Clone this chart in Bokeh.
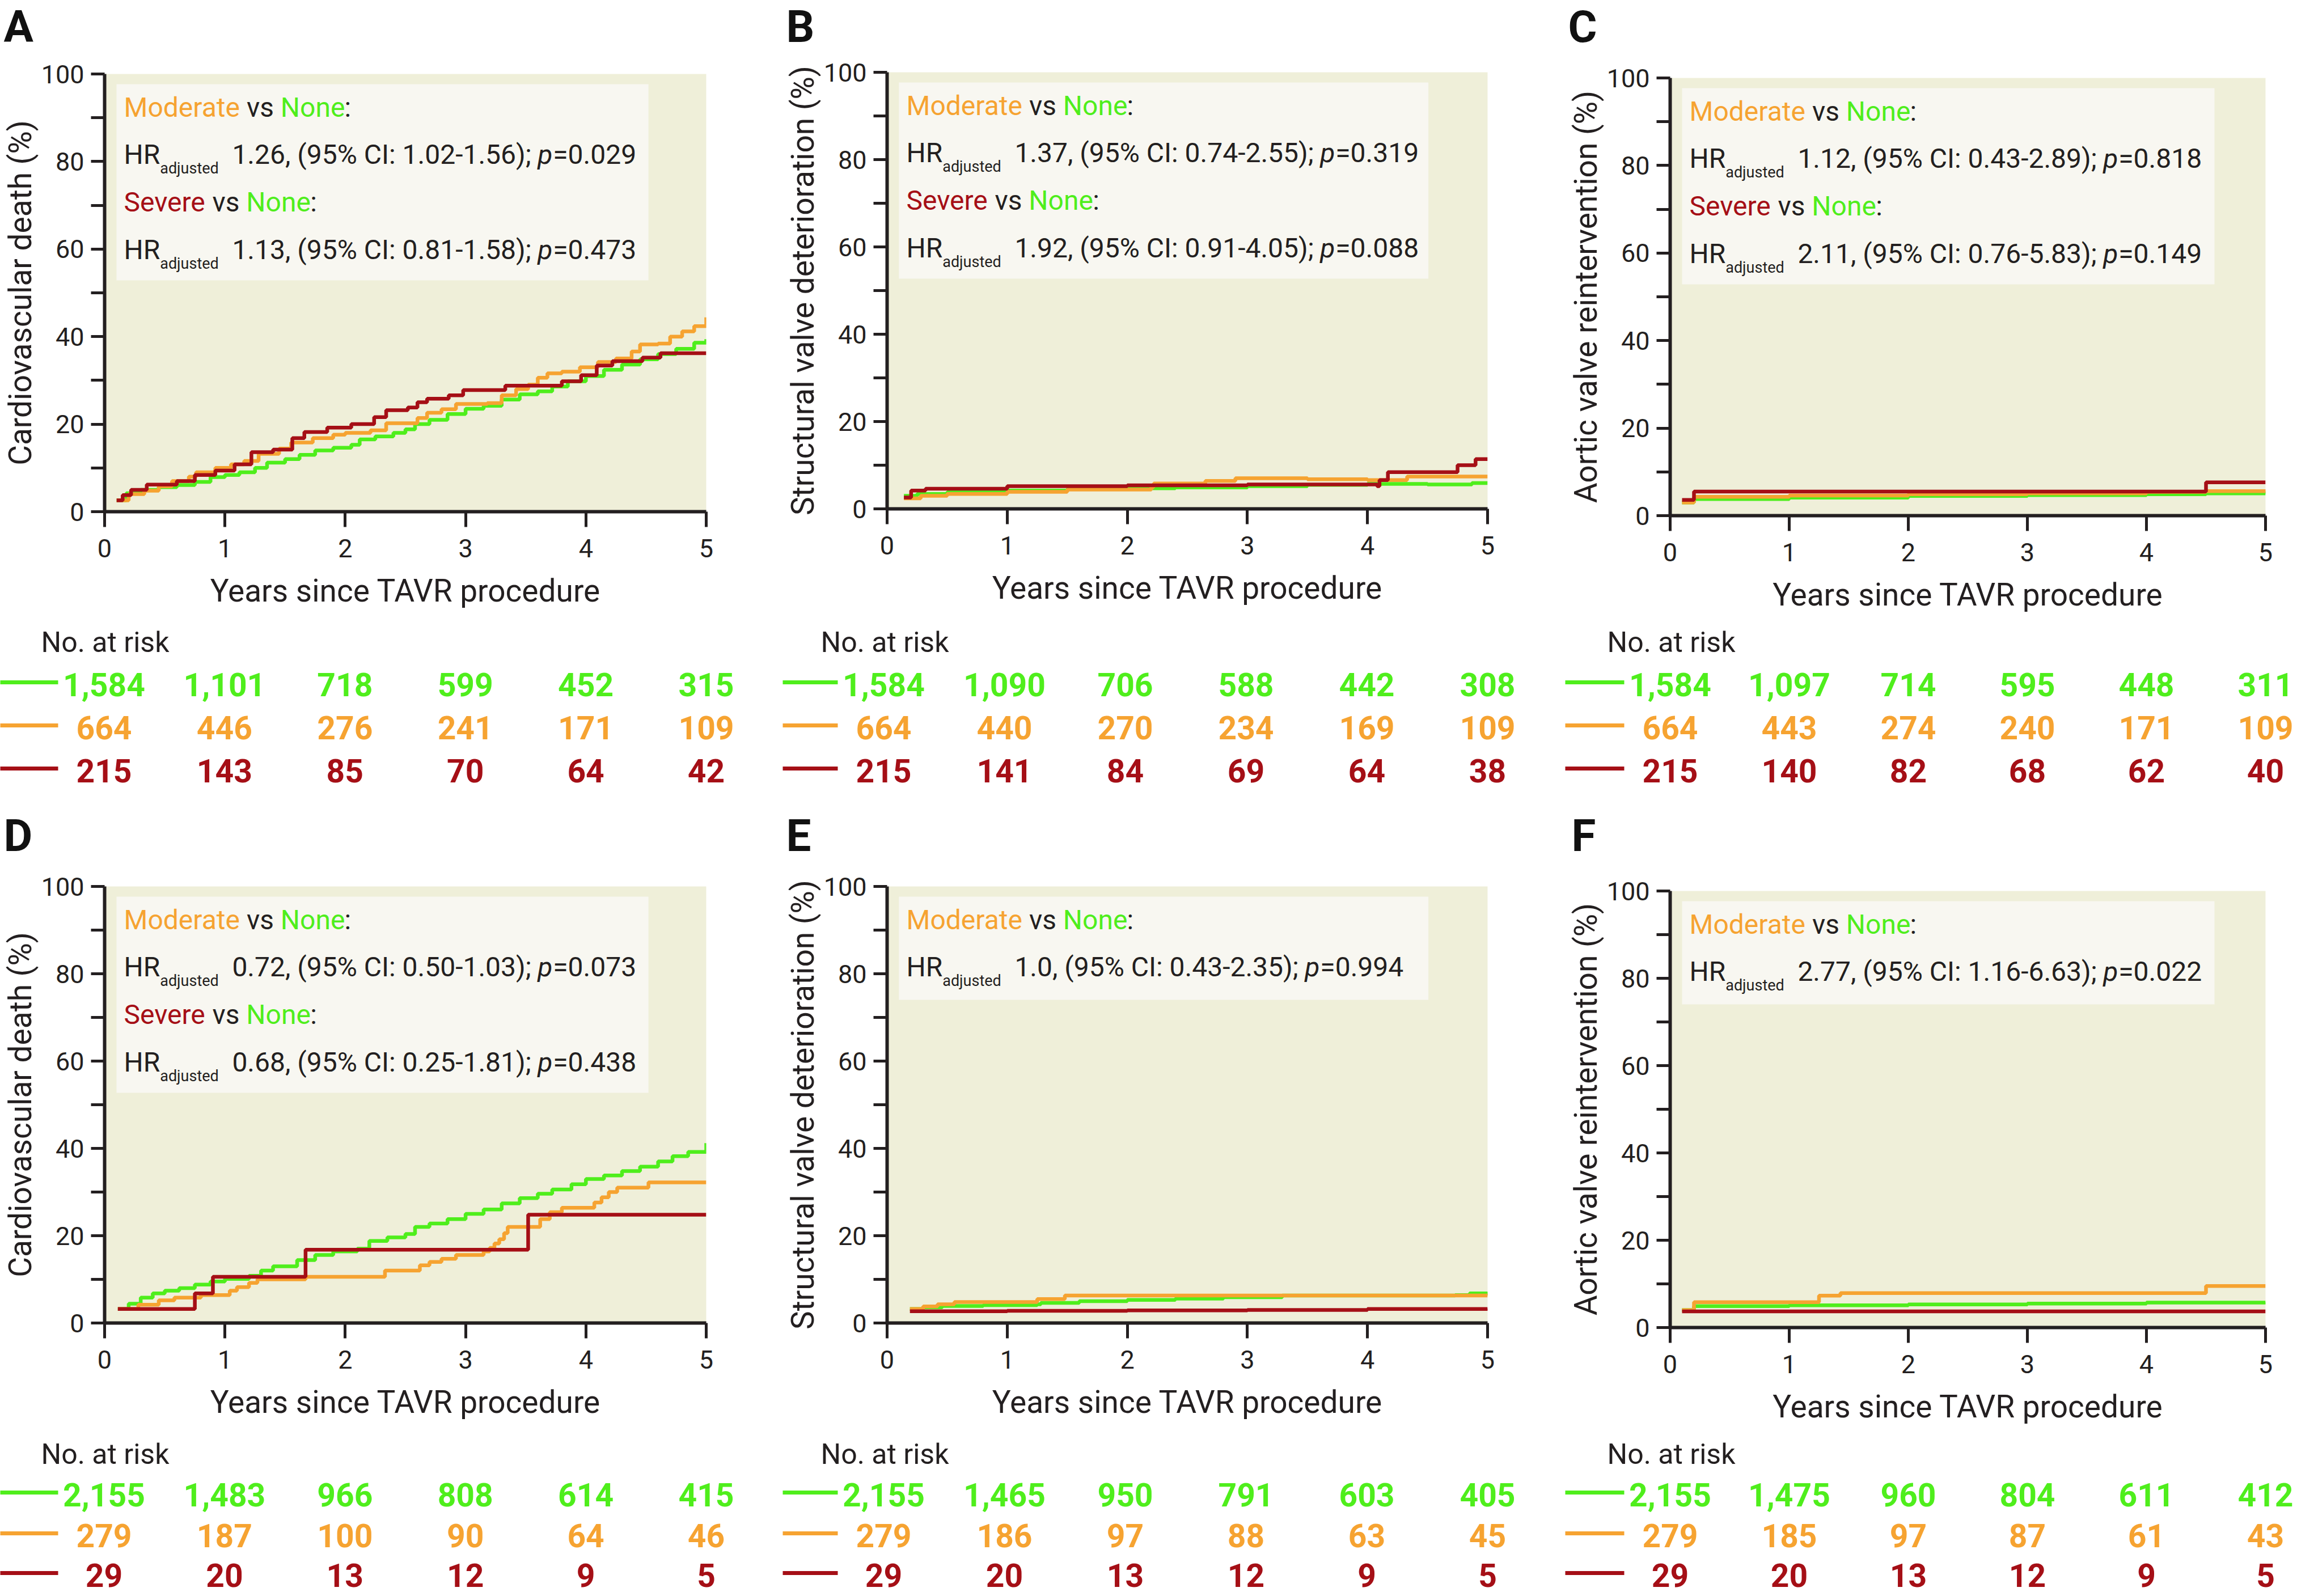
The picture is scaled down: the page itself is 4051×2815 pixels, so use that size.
from bokeh.plotting import figure
from bokeh.layouts import column, row
from bokeh.models import (Range1d, FixedTicker, Label, LabelSet, ColumnDataSource, BoxAnnotation)
from bokeh.core.properties import value
from bokeh.embed import file_html
from bokeh.resources import INLINE

# ------------------------------------------------------------------ data
years = [0, 1, 2, 3, 4, 5]
y_ticks = [0, 20, 40, 60, 80, 100]
y_minor = [10, 30, 50, 70, 90]
x_title = "Years since TAVR procedure"
risk_header = "No. at risk"

# Panel A - cardiovascular death
a_none_t = [0.1, 0.18, 0.3, 0.45, 0.6, 0.75, 0.88, 1.0, 1.12, 1.25, 1.35, 1.5, 1.62, 1.75, 1.9, 2.05, 2.12,
            2.25, 2.4, 2.5, 2.58, 2.7, 2.85, 3.0, 3.15, 3.3, 3.45, 3.6, 3.72, 3.85, 4.0, 4.15, 4.3, 4.45,
            4.6, 4.75, 4.9, 5.0]
a_none_y = [2.6, 4.2, 5.0, 5.6, 6.1, 6.8, 7.9, 8.4, 9.0, 10.0, 11.2, 12.0, 13.0, 14.0, 14.6, 15.3, 16.5,
            17.2, 18.0, 18.8, 20.0, 21.0, 22.3, 23.5, 24.2, 25.6, 26.8, 27.5, 28.6, 29.8, 31.0, 32.4, 33.6,
            34.8, 36.0, 37.2, 38.6, 39.4]
a_mod_t = [0.1, 0.2, 0.33, 0.45, 0.56, 0.7, 0.76, 0.92, 1.05, 1.16, 1.28, 1.45, 1.55, 1.73, 1.9, 2.0, 2.21,
           2.34, 2.6, 2.68, 2.8, 2.92, 3.18, 3.3, 3.42, 3.52, 3.6, 3.68, 3.8, 3.95, 4.1, 4.25, 4.38, 4.45,
           4.6, 4.7, 4.8, 4.9, 5.0]
a_mod_y = [2.6, 4.0, 4.8, 5.8, 7.0, 8.0, 9.0, 10.0, 10.8, 11.6, 13.2, 14.4, 15.8, 16.8, 17.6, 18.0, 18.6,
           20.2, 21.4, 22.6, 23.4, 24.6, 24.8, 26.6, 28.0, 29.0, 30.6, 31.6, 32.0, 33.0, 34.2, 35.0, 36.6,
           38.2, 38.4, 40.0, 41.2, 42.4, 44.4]
a_sev_t = [0.1, 0.15, 0.22, 0.35, 0.6, 0.75, 0.92, 1.08, 1.22, 1.4, 1.56, 1.66, 1.85, 2.05, 2.24, 2.34, 2.52,
           2.6, 2.68, 2.86, 2.98, 3.33, 3.8, 3.96, 4.09, 4.22, 4.47, 4.62, 5.0]
a_sev_y = [2.6, 3.8, 5.0, 6.2, 7.0, 8.4, 9.4, 10.8, 13.6, 14.2, 16.8, 18.2, 19.2, 20.0, 21.6, 23.2, 23.8,
           25.0, 25.8, 26.6, 27.8, 28.8, 29.8, 31.2, 33.4, 34.4, 35.2, 36.2, 36.2]
a_risk_none = [1584, 1101, 718, 599, 452, 315]
a_risk_mod = [664, 446, 276, 241, 171, 109]
a_risk_sev = [215, 143, 85, 70, 64, 42]
a_hr = [("Moderate", "1.26", "1.02-1.56", "0.029"), ("Severe", "1.13", "0.81-1.58", "0.473")]

# Panel B - structural valve deterioration
b_none_t = [0.14, 0.25, 0.5, 1.0, 1.5, 2.0, 2.4, 3.0, 3.5, 4.0, 4.5, 4.87, 5.0]
b_none_y = [3.0, 3.4, 3.8, 4.2, 4.5, 4.7, 4.9, 5.2, 5.5, 5.7, 5.6, 5.9, 5.9]
b_mod_t = [0.14, 0.28, 0.5, 1.0, 1.5, 2.2, 2.22, 2.65, 2.9, 3.5, 4.0, 4.33, 5.0]
b_mod_y = [2.4, 3.0, 3.4, 3.9, 4.4, 5.0, 5.8, 6.4, 7.0, 6.8, 6.6, 7.4, 7.4]
b_sev_t = [0.14, 0.2, 0.32, 1.0, 2.0, 3.0, 3.6, 4.08, 4.1, 4.17, 4.75, 4.9, 5.0]
b_sev_y = [2.6, 4.2, 4.6, 5.2, 5.4, 5.6, 5.6, 5.2, 6.6, 8.4, 10.0, 11.4, 11.4]
b_risk_none = [1584, 1090, 706, 588, 442, 308]
b_risk_mod = [664, 440, 270, 234, 169, 109]
b_risk_sev = [215, 141, 84, 69, 64, 38]
b_hr = [("Moderate", "1.37", "0.74-2.55", "0.319"), ("Severe", "1.92", "0.91-4.05", "0.088")]

# Panel C - aortic valve reintervention
c_none_t = [0.1, 0.2, 1.0, 2.0, 3.0, 4.0, 4.5, 5.0]
c_none_y = [3.0, 3.8, 4.1, 4.5, 4.7, 4.9, 5.1, 4.9]
c_mod_t = [0.1, 0.2, 1.0, 2.0, 3.0, 4.0, 4.5, 5.0]
c_mod_y = [3.0, 4.3, 4.6, 4.9, 5.1, 5.4, 5.6, 5.3]
c_sev_t = [0.1, 0.2, 4.5, 5.0]
c_sev_y = [3.6, 5.5, 7.6, 7.6]
c_risk_none = [1584, 1097, 714, 595, 448, 311]
c_risk_mod = [664, 443, 274, 240, 171, 109]
c_risk_sev = [215, 140, 82, 68, 62, 40]
c_hr = [("Moderate", "1.12", "0.43-2.89", "0.818"), ("Severe", "2.11", "0.76-5.83", "0.149")]

# Panel D - cardiovascular death
d_none_t = [0.11, 0.2, 0.3, 0.4, 0.5, 0.62, 0.75, 0.88, 1.0, 1.2, 1.3, 1.4, 1.6, 1.75, 1.9, 2.1, 2.2, 2.35,
            2.5, 2.58, 2.7, 2.85, 3.0, 3.15, 3.3, 3.45, 3.6, 3.72, 3.88, 4.0, 4.15, 4.3, 4.45, 4.6, 4.72,
            4.85, 5.0]
d_none_y = [3.2, 4.4, 5.8, 6.8, 7.4, 8.0, 8.8, 9.5, 10.1, 10.8, 12.0, 13.0, 14.4, 15.6, 16.4, 17.0, 18.8,
            19.6, 20.4, 22.0, 22.8, 23.8, 25.0, 26.0, 27.4, 28.6, 29.6, 30.6, 31.8, 33.0, 33.8, 34.8, 35.8,
            37.0, 38.2, 39.2, 41.2]
d_mod_t = [0.11, 0.28, 0.45, 0.58, 0.8, 1.04, 1.1, 1.2, 1.27, 1.67, 2.33, 2.62, 2.7, 2.8, 2.92, 3.15, 3.2,
           3.24, 3.28, 3.32, 3.35, 3.62, 3.7, 3.8, 4.07, 4.13, 4.19, 4.26, 4.52, 5.0]
d_mod_y = [3.2, 4.2, 5.2, 5.8, 6.4, 7.4, 8.2, 9.2, 10.0, 10.6, 12.0, 13.2, 14.0, 14.7, 15.6, 16.4, 17.2,
           18.2, 19.2, 20.6, 22.0, 23.8, 25.4, 26.4, 27.6, 28.8, 30.0, 31.0, 32.2, 32.2]
d_sev_t = [0.11, 0.75, 0.9, 1.67, 3.52, 5.0]
d_sev_y = [3.2, 6.8, 10.6, 16.8, 24.8, 24.8]
d_risk_none = [2155, 1483, 966, 808, 614, 415]
d_risk_mod = [279, 187, 100, 90, 64, 46]
d_risk_sev = [29, 20, 13, 12, 9, 5]
d_hr = [("Moderate", "0.72", "0.50-1.03", "0.073"), ("Severe", "0.68", "0.25-1.81", "0.438")]

# Panel E - structural valve deterioration
e_none_t = [0.19, 0.3, 0.46, 0.8, 1.25, 1.28, 1.6, 2.0, 2.4, 2.8, 3.29, 4.73, 4.85, 5.0]
e_none_y = [3.2, 3.6, 3.9, 4.1, 4.3, 4.6, 5.0, 5.3, 5.6, 5.9, 6.3, 6.4, 6.8, 7.1]
e_mod_t = [0.19, 0.3, 0.42, 0.56, 1.25, 1.48, 5.0]
e_mod_y = [3.2, 3.8, 4.3, 4.8, 5.5, 6.3, 6.2]
e_sev_t = [0.19, 1.0, 2.0, 3.0, 4.0, 5.0]
e_sev_y = [2.7, 2.8, 2.9, 3.0, 3.2, 3.3]
e_risk_none = [2155, 1465, 950, 791, 603, 405]
e_risk_mod = [279, 186, 97, 88, 63, 45]
e_risk_sev = [29, 20, 13, 12, 9, 5]
e_hr = [("Moderate", "1.0", "0.43-2.35", "0.994")]

# Panel F - aortic valve reintervention
f_none_t = [0.1, 0.2, 1.0, 2.0, 3.0, 4.0, 5.0]
f_none_y = [4.0, 4.9, 5.1, 5.3, 5.5, 5.7, 5.8]
f_mod_t = [0.1, 0.2, 1.25, 1.43, 4.5, 5.0]
f_mod_y = [4.0, 5.8, 7.3, 7.9, 9.5, 9.5]
f_sev_t = [0.1, 5.0]
f_sev_y = [3.7, 3.7]
f_risk_none = [2155, 1475, 960, 804, 611, 412]
f_risk_mod = [279, 185, 97, 87, 61, 43]
f_risk_sev = [29, 20, 13, 12, 9, 5]
f_hr = [("Moderate", "2.77", "1.16-6.63", "0.022")]

# ------------------------------------------------------------------ style
GREEN = "#4FEE1C"
ORANGE = "#F6A331"
RED = "#A50F16"
INK = "#231F20"
BEIGE = "#EFEFD9"
BOXFILL = "#F8F7F1"
GROUP_COLORS = {"None": GREEN, "Moderate": ORANGE, "Severe": RED}
FONT = "Roboto"

# approximate Roboto Regular advance widths (em)
_W = {' ': .248, '%': .733, '(': .341, ')': .347, ',': .196, '-': .276, '.': .263, ':': .242,
      ';': .211, '=': .549, 'C': .652, 'H': .711, 'I': .272, 'M': .875, 'N': .711, 'R': .616,
      'S': .594, 'a': .544, 'd': .5615, 'e': .529, 'j': .239, 'n': .552, 'o': .558, 'p': .5615,
      'r': .338, 's': .516, 't': .327, 'u': .551, 'v': .483}


def tw(s, size):
    return sum(_W.get(ch, .5615) for ch in s) * size


# layout (page pixels; the page itself has no margin)
COL_W = [1380, 1370, 1298]
FRAME_L = [183, 178, 195]
FRAME_W = [1062, 1065, 1050]
LETTER_X = [6, 6, 15, 6, 6, 21]
ROW_H = [1420, 1394]
LETTER_H = [95, 105]
LETTER_Y = [48, 51]                       # letter centre, from strip bottom
KM_TOP = [[35, 32, 42], [38, 38, 46]]      # border above the frame
FRAME_H = [[772, 770, 772], [770, 770, 770]]
KM_H = [992, 993]
# y of header / rows of the number-at-risk table, measured from the top of the table strip
RISK_Y = [[45, 120, 196, 272], [46, 118, 190, 260]]
HR_LINES = [59, 142, 226, 310]            # text centres below frame top

HR_SIZE = 48
SUB_SIZE = 27


def unaligned(fig):
    try:
        fig.frame_align = False
    except Exception:
        pass
    return fig


def add_runs(p, runs, x0, y):
    x = x0
    for text, color, size, style, dy in runs:
        lead = len(text) - len(text.lstrip(" "))
        core = text.strip(" ")
        p.add_layout(Label(x=x + tw(" " * lead, size), y=y - dy, x_units="screen", y_units="screen",
                           text=core, text_color=color, text_font=FONT,
                           text_font_size=f"{size}px", text_font_style=style,
                           text_align="left", text_baseline="middle"))
        x += tw(text, size)


def make_panel(idx, r, c, letter, ylabel, curves, risks, hrs):
    W = COL_W[c]
    fl, fw = FRAME_L[c], FRAME_W[c]
    ft, fh = KM_TOP[r][c], FRAME_H[r][c]
    km_h = KM_H[r]
    lh = LETTER_H[r]
    risk_h = ROW_H[r] - lh - km_h
    ppx = fw / 5.0

    # ---- panel letter strip
    lf = figure(width=W, height=lh, x_range=Range1d(0, W), y_range=Range1d(0, lh),
                x_axis_type=None, y_axis_type=None, min_border=0, output_backend="svg",
                toolbar_location=None, title=None)
    unaligned(lf)
    lf.outline_line_color = None
    lf.background_fill_color = "white"
    lf.add_layout(Label(x=LETTER_X[idx], y=LETTER_Y[r], text=letter,
                        text_font=FONT, text_font_style="bold", text_font_size="78px",
                        text_color="#111111", text_align="left", text_baseline="middle"))

    # ---- Kaplan-Meier plot
    p = figure(width=W, height=km_h, min_border_left=fl, min_border_right=W - fl - fw,
               min_border_top=ft, min_border_bottom=km_h - ft - fh,
               x_range=Range1d(0, 5), y_range=Range1d(0, 100),
               output_backend="svg", toolbar_location=None, title=None)
    unaligned(p)
    p.background_fill_color = BEIGE
    p.border_fill_color = "white"
    p.outline_line_color = None
    p.grid.visible = False

    for ax in (p.xaxis[0], p.yaxis[0]):
        ax.axis_line_width = 6
        ax.axis_line_color = INK
        ax.major_tick_line_width = 5
        ax.major_tick_line_color = INK
        ax.minor_tick_line_width = 5
        ax.minor_tick_line_color = INK
        ax.major_tick_in = 0
        ax.minor_tick_in = 0
        ax.major_label_text_font = FONT
        ax.major_label_text_font_size = "45px"
        ax.major_label_text_color = INK
        ax.axis_label_text_font = FONT
        ax.axis_label_text_font_style = "normal"
        ax.axis_label_text_color = INK
    p.xaxis.ticker = FixedTicker(ticks=years, minor_ticks=[])
    p.xaxis.major_tick_out = 27
    p.xaxis.major_label_standoff = 21
    p.xaxis.axis_label = x_title
    p.xaxis.axis_label_text_font_size = "55px"
    p.xaxis.axis_label_standoff = 24
    p.yaxis.ticker = FixedTicker(ticks=y_ticks, minor_ticks=y_minor)
    p.yaxis.major_tick_out = 24
    p.yaxis.minor_tick_out = 24
    p.yaxis.major_label_standoff = 12
    p.yaxis.axis_label = ylabel
    p.yaxis.axis_label_text_font_size = "55px"
    p.yaxis.axis_label_standoff = 2

    for (t, y), color in zip(curves, [GREEN, ORANGE, RED]):
        p.step(t, y, mode="after", line_color=color, line_width=6.5)

    # hazard-ratio box
    ppy = fh / 100.0
    box_bottom = 364 if len(hrs) == 2 else 200
    p.add_layout(BoxAnnotation(left=21 / ppx, right=960 / ppx, top=100 - 18 / ppy,
                               bottom=100 - box_bottom / ppy, fill_color=BOXFILL, fill_alpha=1.0,
                               line_color=None))
    for k, (grp, hr, ci, pv) in enumerate(hrs):
        add_runs(p, [(grp, GROUP_COLORS[grp], HR_SIZE, "normal", 0),
                     (" vs ", INK, HR_SIZE, "normal", 0),
                     ("None", GREEN, HR_SIZE, "normal", 0),
                     (":", INK, HR_SIZE, "normal", 0)], 34, fh - HR_LINES[2 * k])
        add_runs(p, [("HR", INK, HR_SIZE, "normal", 0),
                     ("adjusted", INK, SUB_SIZE, "normal", 24),
                     (f"  {hr}, (95% CI: {ci}); ", INK, HR_SIZE, "normal", 0),
                     ("p", INK, HR_SIZE, "italic", 0),
                     (f"={pv}", INK, HR_SIZE, "normal", 0)], 34, fh - HR_LINES[2 * k + 1])

    # ---- number-at-risk table (shares the KM x scale, pixel for pixel)
    rf = figure(width=W, height=risk_h, x_range=Range1d(-fl / ppx, (W - fl) / ppx),
                y_range=Range1d(0, risk_h), x_axis_type=None, y_axis_type=None, min_border=0,
                output_backend="svg", toolbar_location=None, title=None)
    unaligned(rf)
    rf.outline_line_color = None
    rf.background_fill_color = "white"
    ys = [risk_h - d for d in RISK_Y[r]]
    rf.add_layout(Label(x=-111 / ppx, y=ys[0], text=risk_header, text_font=FONT,
                        text_font_size="50px", text_color=INK, text_align="left",
                        text_baseline="middle"))
    for counts, color, yy in zip(risks, [GREEN, ORANGE, RED], ys[1:]):
        src = ColumnDataSource(dict(x=years, y=[yy] * len(years), text=[f"{n:,}" for n in counts]))
        rf.add_layout(LabelSet(x="x", y="y", text="text", source=src,
                               text_font=value(FONT), text_font_style="bold", text_font_size="57px",
                               text_color=color, text_align="center", text_baseline="middle"))
        rf.segment(x0=[-185 / ppx], y0=[yy + 4], x1=[-81 / ppx], y1=[yy + 4],
                   line_color=color, line_width=7)
    return column(lf, p, rf)


specs = [
    (0, 0, 0, "A", "Cardiovascular death (%)",
     [(a_none_t, a_none_y), (a_mod_t, a_mod_y), (a_sev_t, a_sev_y)],
     [a_risk_none, a_risk_mod, a_risk_sev], a_hr),
    (1, 0, 1, "B", "Structural valve deterioration (%)",
     [(b_none_t, b_none_y), (b_mod_t, b_mod_y), (b_sev_t, b_sev_y)],
     [b_risk_none, b_risk_mod, b_risk_sev], b_hr),
    (2, 0, 2, "C", "Aortic valve reintervention (%)",
     [(c_none_t, c_none_y), (c_mod_t, c_mod_y), (c_sev_t, c_sev_y)],
     [c_risk_none, c_risk_mod, c_risk_sev], c_hr),
    (3, 1, 0, "D", "Cardiovascular death (%)",
     [(d_none_t, d_none_y), (d_mod_t, d_mod_y), (d_sev_t, d_sev_y)],
     [d_risk_none, d_risk_mod, d_risk_sev], d_hr),
    (4, 1, 1, "E", "Structural valve deterioration (%)",
     [(e_none_t, e_none_y), (e_mod_t, e_mod_y), (e_sev_t, e_sev_y)],
     [e_risk_none, e_risk_mod, e_risk_sev], e_hr),
    (5, 1, 2, "F", "Aortic valve reintervention (%)",
     [(f_none_t, f_none_y), (f_mod_t, f_mod_y), (f_sev_t, f_sev_y)],
     [f_risk_none, f_risk_mod, f_risk_sev], f_hr),
]

cols = [make_panel(*s) for s in specs]
layout = column(row(*cols[:3]), row(*cols[3:]))

with open("out.html", "w") as fh_out:
    fh_out.write(file_html(layout, INLINE))
